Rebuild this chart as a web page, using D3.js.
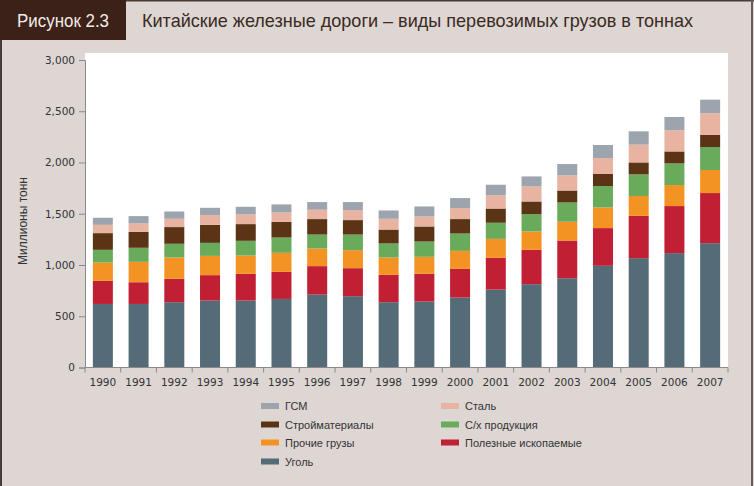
<!DOCTYPE html>
<html><head><meta charset="utf-8">
<script src="https://cdn.jsdelivr.net/npm/d3@7"></script>
<style>
html,body{margin:0;padding:0;background:#ddd6d3;}
svg{display:block;}
</style></head>
<body>
<svg id="chart" width="754" height="486"></svg>
<script>
const years = ["1990","1991","1992","1993","1994","1995","1996","1997","1998","1999","2000","2001","2002","2003","2004","2005","2006","2007"];
const coal      = [620,620,637,653,653,669,711,696,637,643,682,760,813,871,992,1067,1116,1213];
const minerals  = [225,212,228,248,261,264,278,273,267,271,280,310,335,368,368,413,459,489];
const other     = [179,199,208,188,178,186,172,176,169,166,176,185,179,183,201,193,205,225];
const agri      = [124,137,134,127,144,149,136,152,137,149,169,157,170,188,209,211,211,224];
const building  = [163,156,163,176,163,154,151,141,136,147,141,139,123,117,118,117,117,118];
const steel     = [81,81,81,95,94,90,91,98,105,97,107,128,146,147,156,173,206,211];
const fuel      = [69,72,71,71,75,79,75,78,81,98,98,104,98,111,127,130,130,133];
const yTicks = [0,500,1000,1500,2000,2500,3000];

const seriesNames = ["Уголь","Полезные ископаемые","Прочие грузы","С/х продукция","Стройматериалы","Сталь","ГСМ"];
const seriesData = [coal, minerals, other, agri, building, steel, fuel];
const colors = ["#566b78","#c11f33","#f39324","#6aaa5b","#5b3416","#e8b4a1","#9ca5ae"];

(function(){
const svg = d3.select("#chart");
const W = 754, H = 486;

// frame
svg.append("rect").attr("x",0).attr("y",0).attr("width",W).attr("height",H).attr("fill","#ddd6d3");
svg.append("rect").attr("x",0).attr("y",0).attr("width",W).attr("height",1.5).attr("fill","#4a3a33");
svg.append("rect").attr("x",0).attr("y",0).attr("width",2).attr("height",H).attr("fill","#4a3a33");
svg.append("rect").attr("x",751).attr("y",0).attr("width",2).attr("height",H).attr("fill","#6a5d57");

// header
svg.append("rect").attr("x",0).attr("y",0).attr("width",126).attr("height",40).attr("fill","#3b2117");
svg.append("text").attr("x",17).attr("y",27).attr("fill","#f3ece8")
  .attr("font-family","'Liberation Sans Narrow','Liberation Sans',Arial,sans-serif").attr("font-size",19)
  .attr("textLength",92).attr("lengthAdjust","spacingAndGlyphs").text("Рисунок 2.3");
svg.append("text").attr("x",142).attr("y",27).attr("fill","#3b2a22")
  .attr("font-family","'Liberation Sans Narrow','Liberation Sans',Arial,sans-serif").attr("font-size",19)
  .attr("textLength",551).attr("lengthAdjust","spacingAndGlyphs")
  .text("Китайские железные дороги – виды перевозимых грузов в тоннах");

// plot area
const pLeft = 85, pRight = 728, pTop = 53, pBase = 367.5;
svg.append("rect").attr("x",pLeft).attr("y",pTop).attr("width",pRight-pLeft).attr("height",pBase-pTop).attr("fill","#ffffff");

const x = d3.scaleBand().domain(years).range([pLeft,pRight]).paddingInner(0.44).paddingOuter(0.22);
const y = d3.scaleLinear().domain([0,3000]).range([pBase,60]);

const table = years.map((yr,i)=>{
  const o = {year: yr};
  seriesNames.forEach((s,k)=>{ o[s] = seriesData[k][i]; });
  return o;
});
const stack = d3.stack().keys(seriesNames)(table);

svg.append("g").selectAll("g").data(stack).join("g")
  .attr("fill",(d,i)=>colors[i])
  .selectAll("rect").data(d=>d).join("rect")
  .attr("x",d=>x(d.data.year))
  .attr("width",x.bandwidth())
  .attr("y",d=>y(d[1]))
  .attr("height",d=>y(d[0])-y(d[1]));

// y axis
const yAxis = svg.append("g").attr("transform",`translate(${pLeft},0)`)
  .call(d3.axisLeft(y).tickValues(yTicks).tickFormat(d3.format(",")).tickSize(6).tickPadding(4));
yAxis.select(".domain").attr("stroke","#8a8a8a");
yAxis.selectAll(".tick line").attr("stroke","#8a8a8a");
yAxis.selectAll("text").attr("fill","#333").attr("font-family","'DejaVu Sans',Verdana,sans-serif").attr("font-size",10.5);

// x axis
const xAxisG = svg.append("g").attr("transform",`translate(0,${pBase})`);
xAxisG.append("line").attr("x1",pLeft).attr("x2",pRight).attr("y1",0).attr("y2",0).attr("stroke","#8a8a8a");
const bounds = d3.range(years.length+1).map(i=>pLeft + i*(pRight-pLeft)/years.length);
xAxisG.selectAll("line.tk").data(bounds).join("line").attr("class","tk")
  .attr("x1",d=>d).attr("x2",d=>d).attr("y1",0).attr("y2",5).attr("stroke","#8a8a8a");
xAxisG.selectAll("text").data(years).join("text")
  .attr("x",d=>x(d)+x.bandwidth()/2).attr("y",18)
  .attr("text-anchor","middle").attr("fill","#333")
  .attr("font-family","'DejaVu Sans',Verdana,sans-serif").attr("font-size",10.5)
  .text(d=>d);

// y title
svg.append("text").attr("transform","translate(27,221) rotate(-90)")
  .attr("text-anchor","middle").attr("fill","#333")
  .attr("font-family","'Liberation Sans',Arial,sans-serif").attr("font-size",12)
  .text("Миллионы тонн");

// legend
const legendItems = [
  {name:"ГСМ", col:0, row:0},
  {name:"Стройматериалы", col:0, row:1},
  {name:"Прочие грузы", col:0, row:2},
  {name:"Уголь", col:0, row:3},
  {name:"Сталь", col:1, row:0},
  {name:"С/х продукция", col:1, row:1},
  {name:"Полезные ископаемые", col:1, row:2}
];
const colX = [261,441], rowY = [406,424.5,442.5,461.5];
const lg = svg.append("g").selectAll("g").data(legendItems).join("g")
  .attr("transform",d=>`translate(${colX[d.col]},${rowY[d.row]})`);
lg.append("rect").attr("x",0).attr("y",-3).attr("width",18).attr("height",6)
  .attr("fill",d=>colors[seriesNames.indexOf(d.name)]);
lg.append("text").attr("x",24).attr("y",4).attr("fill","#333")
  .attr("font-family","'Liberation Sans',Arial,sans-serif").attr("font-size",11)
  .text(d=>d.name);
})();
</script>
</body></html>
